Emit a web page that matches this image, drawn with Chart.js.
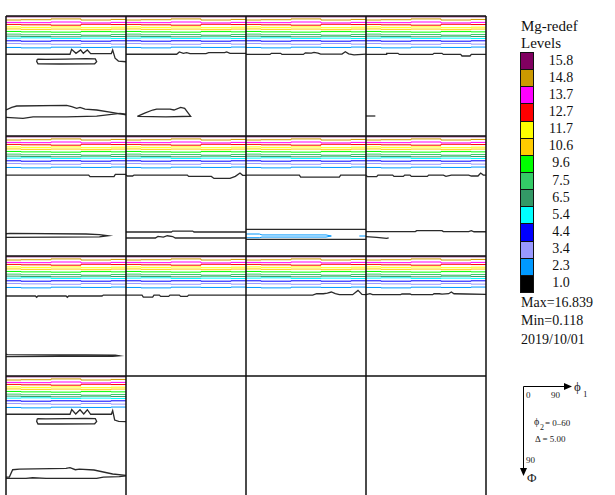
<!DOCTYPE html>
<html>
<head>
<meta charset="utf-8">
<script src="https://cdn.jsdelivr.net/npm/chart.js@4.4.1/dist/chart.umd.min.js"></script>
<style>
html, body { margin: 0; padding: 0; background: #fff; overflow: hidden; width: 615px; height: 495px; }
#odf { position: absolute; left: 0; top: 0; }
.txt { position: absolute; font-family: "Liberation Serif", "Times New Roman", serif; color: #111; white-space: nowrap; }
.sw { position: absolute; left: 520px; width: 14px; box-sizing: border-box; border: 1px solid #111; }
#axes { position: absolute; left: 490px; top: 360px; }
#axes text { font-family: "Liberation Serif", "Times New Roman", serif; fill: #222; }
</style>
</head>
<body>
<canvas id="odf" width="490" height="500"></canvas>
<div id="legend"></div>
<svg id="axes" width="125" height="135">
  <line x1="33.5" y1="26.5" x2="76" y2="26.5" stroke="#000" stroke-width="1"/>
  <polygon points="82,26.5 74,23 74,30" fill="#000"/>
  <line x1="33.5" y1="26.5" x2="33.5" y2="110" stroke="#000" stroke-width="1"/>
  <polygon points="33.5,116 30,108 37,108" fill="#000"/>
  <text x="36" y="37.5" font-size="9">0</text>
  <text x="61" y="37.5" font-size="9">90</text>
  <text x="84" y="31" font-size="13">ϕ</text>
  <text x="93" y="37" font-size="9">1</text>
  <text x="44" y="65" font-size="10">ϕ</text>
  <text x="50" y="70" font-size="8">2</text>
  <text x="55" y="66" font-size="9">= 0–60</text>
  <text x="45" y="82" font-size="9">Δ = 5.00</text>
  <text x="36" y="102.5" font-size="9">90</text>
  <text x="37" y="122" font-size="13">Φ</text>
</svg>
<script>
// contour levels (top of legend first)
const levelLabels = ['15.8', '14.8', '13.7', '12.7', '11.7', '10.6', '9.6', '7.5', '6.5', '5.4', '4.4', '3.4', '2.3', '1.0'];
const levelColors = ['#800060', '#cc9900', '#ff00ff', '#ff0000', '#ffff00', '#ffcc00', '#00ff00',
                     '#33cc66', '#339966', '#00ffff', '#0000ff', '#9999ff', '#0099ff', '#000000'];
const stats = ['Max=16.839', 'Min=0.118', '2019/10/01'];

// the high levels run as near-flat bands close to Phi = 0 in every section
const phi1Grid = [0, 22.5, 45, 67.5, 90];
const levelPhi = [
  [0.6, 0.6, 0.6, 0.6, 0.6],
  [3.0, 2.8, 2.2, 3.0, 2.6],
  [4.8, 5.0, 4.5, 5.2, 4.8],
  [6.3, 6.6, 6.9, 6.2, 6.4],
  [8.2, 8.5, 8.2, 8.8, 8.4],
  [9.7, 10.0, 9.8, 10.3, 9.8],
  [11.6, 11.9, 12.1, 11.7, 11.9],
  [13.6, 14.1, 13.9, 14.4, 13.9],
  [15.1, 15.4, 15.6, 15.1, 15.4],
  [16.6, 16.4, 16.9, 16.6, 16.9],
  [18.6, 18.9, 18.6, 18.9, 18.6],
  [20.6, 20.9, 21.2, 20.6, 21.1],
  [23.6, 23.9, 23.4, 23.6, 23.3]
];

// low-level contours per phi2 section: [level, [[phi1, Phi], ...]]
const phi2_0 = [
  ['1.0', [[0,28.7],[48,28.7],[49.2,25],[52.5,28],[56,25.5],[58,28],[61,25.5],[63.5,28.2],[79,28.2],[80,25.5],[81.8,31.6],[84.3,33.8],[90,34.3]]],
  ['1.0', [[23.5,32.3],[23,34],[24,35.8],[40,36],[66.5,35.8],[68,34.2],[67,32.2],[60,32],[45,32.3],[30,32.6],[23.5,32.3]]],
  ['1.0', [[0,70.5],[4.3,68.5],[8,67.5],[45.5,67],[49.3,68],[53,69.2],[55.5,68.5],[59.3,69.8],[68,70.5],[80.3,72.5],[90,74.2]]],
  ['1.0', [[0,76],[12.8,76.8],[20.3,75.6],[45.5,75.6],[68,75.1],[85.5,73],[90,73.6]]]
];
const phi2_5 = [
  ['1.0', [[0,28.7],[38,28.7],[40,27],[43,28],[45.5,27.5],[48,28.2],[60,28.2],[62,27.5],[74,27.5],[75.5,27],[78,28],[90,28]]],
  ['1.0', [[8.5,75.3],[14,72.8],[20,70.5],[23,69.8],[33,69.8],[36,70.5],[41,68.5],[44,69.2],[48.5,75.2],[30,75.6],[8.5,75.3]]]
];
const phi2_10 = [
  ['1.0', [[0,28.8],[18,28.8],[19,28],[26,28],[27,28.8],[43,28.8],[44.5,27.6],[49,27.9],[51,27.3],[54,27.8],[56,28.6],[72,28.6],[74.5,26.8],[77,28.4],[81,29.2],[90,28.6]]]
];
const phi2_15 = [
  ['1.0', [[0,28.8],[15,28.8],[15.5,28],[24,28],[25,28.8],[50,28.8],[51,28],[57,28],[58,28.8],[71,28.8],[72,30],[78,30],[79,28.8],[90,28.8]]],
  ['1.0', [[0,75],[7,75]]]
];
const phi2_20 = [
  ['1.0', [[0,29.3],[62,29.3],[63,30.5],[81,30.5],[82,28.8],[90,28.8]]],
  ['1.0', [[0,73.3],[3,73],[60,73.5],[70,74],[76.5,74.8],[70,75.6],[40,75.9],[0,76.1]]]
];
const phi2_25 = [
  ['1.0', [[0,29.3],[1,30],[5,30],[6,29.3],[46,29.3],[47,30.3],[64,30.3],[66,31.8],[78,31.8],[82,30.3],[85.5,27.8],[87.5,29.5],[90,29.5]]],
  ['1.0', [[0,72],[34,72],[35,71.3],[50,71.3],[51,72],[90,72]]],
  ['1.0', [[0,76.5],[22,76.5],[24,75.3],[28,75.8],[31,74.8],[35,75.4],[37,76.5],[90,76.5]]]
];
const phi2_30 = [
  ['1.0', [[0,29.3],[40,29.3],[41,30.8],[70,30.8],[71,29.3],[90,29.3]]],
  ['1.0', [[0,70],[90,70]]],
  ['1.0', [[0,77.5],[90,77.5]]],
  ['2.3', [[0,73.5],[10,73.5],[12,74.2],[60,74.2],[64,75],[60,75.8],[12,75.8],[10,76.3],[0,76.3]]],
  ['2.3', [[85,75],[90,75]]]
];
const phi2_35 = [
  ['1.0', [[0,29.3],[1,30.5],[8,30.5],[9,29.3],[20,29.3],[21,30.3],[28,30.3],[29,29.3],[33,29.3],[34,30.3],[46,30.3],[47,29.3],[58,29.3],[60,30.3],[64,29.3],[77,29.3],[79,30],[84,30],[86,27.8],[88,29.3],[90,29.3]]],
  ['1.0', [[0,71.7],[37,71.7],[38,71],[57,71],[58,71.7],[77,71.7],[79,71],[81,71.8],[90,71.8]]],
  ['1.0', [[0,75.5],[8,76],[15.5,76.8],[17,76.4]]]
];
const phi2_40 = [
  ['1.0', [[0,30],[22,30],[23,31],[24,30],[45,30],[46,31],[47,30],[72,30],[73,29.3],[90,29.3]]],
  ['1.0', [[0,73.6],[1,73.9],[60,74.1],[82,74.3],[85,74.8],[80,75.3],[40,75.2],[0,75.5]]]
];
const phi2_45 = [
  ['1.0', [[0,29.3],[12,29.3],[13,30.8],[20,30.8],[21,29.3],[25,29.3],[26,30.3],[32,30.3],[33,29.3],[40,29.3],[41,30.3],[46,30.3],[47,29.3],[90,29.3]]]
];
const phi2_50 = [
  ['1.0', [[0,29.3],[50,29.3],[53,28.3],[58,28.3],[61,27.8],[64,27],[67,28.2],[70,29],[80,29],[84,25.8],[87,28.8],[90,29]]]
];
const phi2_55 = [
  ['1.0', [[0,29],[3,28.3],[5,29],[26,29],[27,28.5],[33,28.5],[34,29],[50,29],[51,28.3],[55,28.3],[57,28.6],[62,28.3],[64,27],[66,28.3],[75,28.5],[90,28.8]]]
];
const phi2_60 = [
  ['1.0', [[0,28.7],[48,28.7],[49.3,25.1],[52.3,28.5],[55.5,25.3],[58.3,28.5],[61,25.3],[63.5,28.7],[79,28.7],[80,26],[81.5,33],[84.5,34],[90,34.2]]],
  ['1.0', [[23.5,32],[23,34],[24,36],[40,36],[66.5,35.8],[68,34],[67,32],[60,31.8],[45,32],[30,32.2],[23.5,32]]],
  ['1.0', [[0,75.8],[2.5,75.8],[5,70.3],[10,69.8],[45,69.3],[48,68.8],[52,70.3],[55,69.8],[66,70.5],[80,73.5],[90,74.5]]],
  ['1.0', [[0,76.8],[15,76.8],[20,76.3],[30,76.8],[68,76.8],[73,75.8],[85,75.5],[90,74.8]]]
];

const sections = [phi2_0, phi2_5, phi2_10, phi2_15, phi2_20, phi2_25, phi2_30,
                  phi2_35, phi2_40, phi2_45, phi2_50, phi2_55, phi2_60];
const panelEdges = [0, 90, 180, 270, 360];

// each section sits in a 4x4 grid of 90x90 degree cells
const datasets = [];
sections.forEach((contours, i) => {
  const dx = (i % 4) * 90;
  const dy = Math.floor(i / 4) * 90;
  levelPhi.forEach((row, k) => {
    datasets.push({
      data: phi1Grid.map((p, j) => ({ x: p + dx, y: row[j] + dy })),
      borderColor: levelColors[k],
      borderWidth: 1,
      stepped: 'middle',
      showLine: true
    });
  });
  contours.forEach(([level, pts]) => {
    const k = levelLabels.indexOf(level);
    datasets.push({
      data: pts.map(([a, b]) => ({ x: a + dx, y: b + dy })),
      borderColor: level === '1.0' ? '#2a2a2a' : levelColors[k],
      borderWidth: level === '1.0' ? 1.3 : 1,
      showLine: true
    });
  });
});

const gridPlugin = {
  id: 'panelGrid',
  afterDatasetsDraw(chart) {
    const { ctx, scales: { x, y } } = chart;
    ctx.save();
    ctx.strokeStyle = '#111';
    ctx.lineWidth = 1.5;
    ctx.beginPath();
    panelEdges.forEach(v => {
      const px = x.getPixelForValue(v);
      ctx.moveTo(px, y.getPixelForValue(0));
      ctx.lineTo(px, y.getPixelForValue(360));
      const py = y.getPixelForValue(v);
      ctx.moveTo(x.getPixelForValue(0), py);
      ctx.lineTo(x.getPixelForValue(360), py);
    });
    ctx.stroke();
    ctx.restore();
  }
};

new Chart(document.getElementById('odf').getContext('2d'), {
  type: 'scatter',
  data: { datasets },
  options: {
    responsive: false,
    animation: false,
    events: [],
    layout: { padding: { left: 6, top: 16, right: 4, bottom: 4 } },
    elements: { point: { radius: 0 }, line: { tension: 0 } },
    plugins: { legend: { display: false }, tooltip: { enabled: false } },
    scales: {
      x: { type: 'linear', min: 0, max: 360, display: false },
      y: { type: 'linear', min: 0, max: 360, reverse: true, display: false }
    }
  },
  plugins: [gridPlugin]
});

// colour key
const legend = document.getElementById('legend');
function addText(str, left, top, size, extra) {
  const d = document.createElement('div');
  d.className = 'txt';
  d.textContent = str;
  d.style.left = left + 'px';
  d.style.top = top + 'px';
  d.style.fontSize = size + 'px';
  d.style.lineHeight = '16px';
  if (extra) Object.assign(d.style, extra);
  legend.appendChild(d);
}
addText('Mg-redef', 521, 18, 15);
addText('Levels', 521, 35, 15);
const swTop = 52, swH = 17.14;
levelLabels.forEach((lab, k) => {
  const s = document.createElement('div');
  s.className = 'sw';
  s.style.top = (swTop + k * swH) + 'px';
  s.style.height = (swH + 1) + 'px';
  s.style.background = levelColors[k];
  legend.appendChild(s);
  addText(lab, 541, swTop + k * swH + swH / 2 - 8, 14, { width: '40px', textAlign: 'center' });
});
stats.forEach((s, i) => addText(s, 521, 295 + i * 18.4, 14));
</script>
</body>
</html>
